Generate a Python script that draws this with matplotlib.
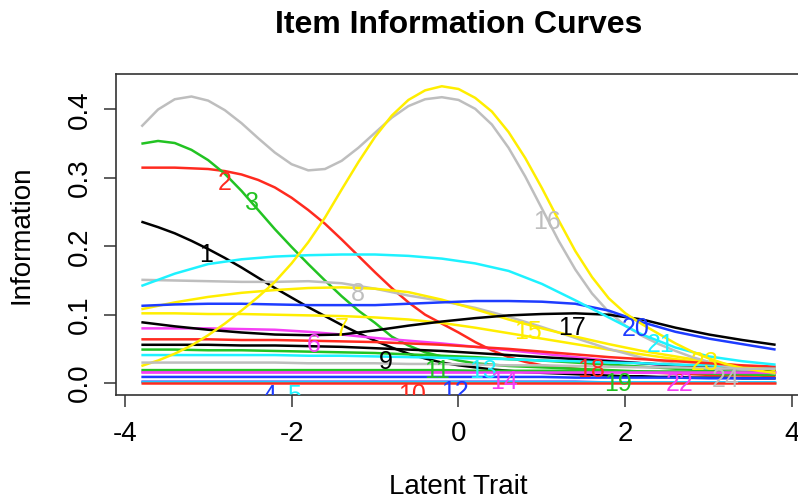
import numpy as np
import matplotlib
matplotlib.use("Agg")
import matplotlib.pyplot as plt

plt.rcParams['font.family'] = ['Liberation Sans', 'DejaVu Sans']

# theta grids the curves were read on
theta_fine = np.round(np.arange(-3.8, 3.81, 0.2), 1)   # 39 points
theta = np.round(np.arange(-3.8, 3.81, 0.4), 1)        # 20 points

# curves read on the fine grid (the strongly curved ones)
item01 = [0.236, 0.228, 0.219, 0.208, 0.196, 0.183, 0.169, 0.154, 0.139, 0.125,
          0.111, 0.098, 0.085, 0.073, 0.062, 0.052, 0.043, 0.036, 0.030, 0.026,
          0.023, 0.020, 0.018, 0.016, 0.015, 0.014, 0.013, 0.012, 0.011, 0.010,
          0.010, 0.009, 0.009, 0.008, 0.008, 0.008, 0.007, 0.007, 0.007]
item02 = [0.315, 0.315, 0.315, 0.314, 0.313, 0.310, 0.305, 0.297, 0.286, 0.271,
          0.253, 0.233, 0.210, 0.186, 0.162, 0.139, 0.118, 0.100, 0.087, 0.074,
          0.060, 0.048, 0.038, 0.031, 0.026, 0.023, 0.021, 0.019, 0.018, 0.017,
          0.016, 0.015, 0.014, 0.013, 0.012, 0.012, 0.011, 0.011, 0.010]
item03 = [0.350, 0.354, 0.351, 0.341, 0.326, 0.306, 0.281, 0.253, 0.225, 0.199,
          0.174, 0.150, 0.127, 0.106, 0.088, 0.068, 0.055, 0.045, 0.039, 0.033,
          0.029, 0.027, 0.025, 0.024, 0.023, 0.022, 0.021, 0.020, 0.019, 0.018,
          0.017, 0.016, 0.015, 0.015, 0.014, 0.013, 0.013, 0.012, 0.012]
item16 = [0.375, 0.400, 0.415, 0.419, 0.413, 0.399, 0.380, 0.358, 0.337, 0.320,
          0.311, 0.313, 0.325, 0.344, 0.366, 0.388, 0.405, 0.415, 0.418, 0.414,
          0.401, 0.378, 0.344, 0.302, 0.255, 0.208, 0.166, 0.131, 0.104, 0.084,
          0.069, 0.057, 0.047, 0.038, 0.031, 0.025, 0.020, 0.017, 0.014]
item23 = [0.025, 0.033, 0.043, 0.055, 0.070, 0.087, 0.106, 0.126, 0.148, 0.175,
          0.206, 0.242, 0.283, 0.323, 0.360, 0.391, 0.414, 0.428, 0.434, 0.430,
          0.417, 0.397, 0.367, 0.329, 0.285, 0.238, 0.193, 0.155, 0.124, 0.102,
          0.086, 0.072, 0.058, 0.046, 0.036, 0.028, 0.022, 0.018, 0.015]

# curves read on the coarse grid
item04 = [0.002, 0.002, 0.002, 0.002, 0.002, 0.002, 0.002, 0.002, 0.002, 0.002,
          0.002, 0.002, 0.002, 0.002, 0.001, 0.001, 0.001, 0.001, 0.001, 0.001]
item05 = [0.001, 0.001, 0.001, 0.001, 0.001, 0.001, 0.001, 0.001, 0.001, 0.001,
          0.001, 0.001, 0.001, 0.001, 0.001, 0.001, 0.001, 0.001, 0.001, 0.001]
item06 = [0.080, 0.080, 0.080, 0.079, 0.078, 0.075, 0.071, 0.066, 0.062, 0.058,
          0.053, 0.048, 0.043, 0.038, 0.033, 0.029, 0.025, 0.022, 0.020, 0.018]
item07 = [0.102, 0.102, 0.101, 0.101, 0.100, 0.099, 0.098, 0.096, 0.093, 0.088,
          0.081, 0.073, 0.065, 0.057, 0.049, 0.042, 0.035, 0.029, 0.024, 0.020]
item08 = [0.151, 0.150, 0.149, 0.148, 0.148, 0.149, 0.146, 0.138, 0.128, 0.120,
          0.110, 0.097, 0.082, 0.066, 0.050, 0.037, 0.028, 0.022, 0.019, 0.017]
item09 = [0.056, 0.056, 0.056, 0.055, 0.055, 0.054, 0.053, 0.051, 0.049, 0.047,
          0.044, 0.041, 0.038, 0.035, 0.032, 0.029, 0.026, 0.023, 0.021, 0.019]
item10 = [0.000, 0.000, 0.000, 0.000, 0.000, 0.000, 0.000, 0.000, 0.000, 0.000,
          0.000, 0.000, 0.000, 0.000, 0.000, 0.000, 0.000, 0.000, 0.000, 0.000]
item11 = [0.049, 0.049, 0.048, 0.048, 0.047, 0.046, 0.045, 0.044, 0.042, 0.040,
          0.038, 0.035, 0.033, 0.030, 0.027, 0.024, 0.021, 0.018, 0.016, 0.014]
item12 = [0.009, 0.009, 0.009, 0.009, 0.009, 0.009, 0.009, 0.009, 0.009, 0.009,
          0.009, 0.009, 0.009, 0.008, 0.008, 0.008, 0.008, 0.007, 0.007, 0.007]
item13 = [0.041, 0.041, 0.041, 0.041, 0.041, 0.040, 0.040, 0.039, 0.038, 0.037,
          0.036, 0.035, 0.033, 0.032, 0.030, 0.029, 0.027, 0.026, 0.024, 0.023]
item14 = [0.016, 0.016, 0.016, 0.016, 0.016, 0.016, 0.016, 0.016, 0.016, 0.016,
          0.016, 0.016, 0.016, 0.016, 0.016, 0.015, 0.015, 0.015, 0.015, 0.015]
item15 = [0.108, 0.118, 0.126, 0.132, 0.136, 0.139, 0.140, 0.138, 0.133, 0.122,
          0.108, 0.093, 0.080, 0.068, 0.057, 0.047, 0.039, 0.031, 0.025, 0.019]
item17 = [0.089, 0.083, 0.078, 0.074, 0.071, 0.070, 0.071, 0.077, 0.084, 0.090,
          0.095, 0.099, 0.101, 0.102, 0.100, 0.093, 0.081, 0.071, 0.063, 0.056]
item18 = [0.064, 0.064, 0.064, 0.063, 0.063, 0.062, 0.061, 0.060, 0.058, 0.056,
          0.053, 0.050, 0.046, 0.042, 0.038, 0.035, 0.032, 0.029, 0.026, 0.024]
item19 = [0.019, 0.019, 0.019, 0.019, 0.019, 0.019, 0.019, 0.019, 0.019, 0.019,
          0.018, 0.018, 0.018, 0.018, 0.017, 0.017, 0.017, 0.016, 0.016, 0.016]
item20 = [0.113, 0.115, 0.116, 0.116, 0.115, 0.114, 0.114, 0.114, 0.116, 0.118,
          0.120, 0.120, 0.119, 0.116, 0.106, 0.089, 0.075, 0.065, 0.057, 0.049]
item21 = [0.142, 0.160, 0.174, 0.181, 0.185, 0.187, 0.188, 0.188, 0.186, 0.182,
          0.175, 0.164, 0.145, 0.121, 0.096, 0.071, 0.052, 0.039, 0.032, 0.027]
item22 = [0.016, 0.016, 0.016, 0.016, 0.016, 0.016, 0.016, 0.016, 0.016, 0.016,
          0.016, 0.016, 0.016, 0.016, 0.016, 0.016, 0.016, 0.016, 0.016, 0.016]
item24 = [0.030, 0.030, 0.030, 0.030, 0.030, 0.029, 0.029, 0.029, 0.028, 0.028,
          0.027, 0.026, 0.026, 0.025, 0.024, 0.023, 0.023, 0.022, 0.021, 0.021]

fine_items = {1: item01, 2: item02, 3: item03, 16: item16, 23: item23}
coarse_items = {4: item04, 5: item05, 6: item06, 7: item07, 8: item08, 9: item09,
                10: item10, 11: item11, 12: item12, 13: item13, 14: item14,
                15: item15, 17: item17, 18: item18, 19: item19, 20: item20,
                21: item21, 22: item22, 24: item24}

# where the item numbers were written
label_x = [-3.02, -2.80, -2.48, -2.27, -1.97, -1.74, -1.40, -1.20, -0.875, -0.56,
           -0.26, -0.04, 0.29, 0.55, 0.83, 1.06, 1.36, 1.59, 1.91, 2.12,
           2.42, 2.65, 2.95, 3.20]
label_y = [0.187, 0.293, 0.263, -0.019, -0.019, 0.056, 0.079, 0.130, 0.031, -0.018,
           0.017, -0.013, 0.017, 0.002, 0.075, 0.235, 0.081, 0.019, -0.001, 0.079,
           0.056, -0.001, 0.030, 0.005]

# R default palette
palette = ['#000000', '#FF2A1F', '#22C322', '#1E3CFF',
           '#1EF2FF', '#F53FF5', '#FFEE00', '#BEBEBE']

fig = plt.figure(figsize=(7.98, 5.0), dpi=100)
ax = fig.add_axes([116 / 798, 1 - 395 / 500, (801 - 116) / 798, (395 - 74) / 500])

for k in range(1, 25):
    if k in fine_items:
        x, y = theta_fine, fine_items[k]
    else:
        x, y = theta, coarse_items[k]
    ax.plot(x, y, color=palette[(k - 1) % 8], lw=1.8, solid_capstyle='butt')

for k in range(1, 25):
    ax.text(label_x[k - 1], label_y[k - 1], str(k), color=palette[(k - 1) % 8],
            fontsize=18, ha='center', va='center', clip_on=True)

ax.set_xlim(-4.104, 4.104)
ax.set_ylim(-0.0174, 0.4519)
ax.set_xticks([-4, -2, 0, 2, 4])
ax.set_xticklabels(['-4', '-2', '0', '2', '4'])
ax.set_yticks([0.0, 0.1, 0.2, 0.3, 0.4])
ax.set_yticklabels(['0.0', '0.1', '0.2', '0.3', '0.4'], rotation=90, va='center')
ax.tick_params(direction='out', length=8.5, width=1.1, labelsize=20, color='#333333')
ax.tick_params(axis='x', pad=10.5)
ax.tick_params(axis='y', pad=8)
for s in ax.spines.values():
    s.set_color('#333333')
    s.set_linewidth(1.2)

fig.text(458.5 / 798, 1 - 25 / 500, 'Item Information Curves', ha='center', va='center',
         fontsize=23, fontweight='bold')
fig.text(458.5 / 798, 1 - 487 / 500, 'Latent Trait', ha='center', va='center', fontsize=20)
fig.text(22 / 798, 1 - 234.5 / 500, 'Information', ha='center', va='center',
         fontsize=20, rotation=90)

fig.savefig('out.png', dpi=100)
